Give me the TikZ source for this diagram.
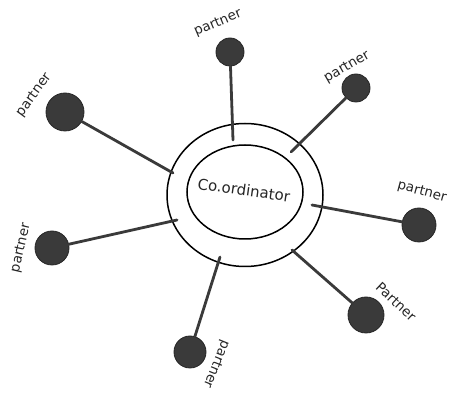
\documentclass[tikz,border=0pt]{standalone}
\usepackage{fontspec}
\setmainfont{DejaVu Sans}
\usetikzlibrary{shapes.geometric}
\definecolor{ballc}{HTML}{3A3A3A}
\begin{document}
\begin{tikzpicture}[x=1pt,y=-1pt,
  ball/.style={circle,fill=ballc,draw=black!85,line width=0.8pt,inner sep=0pt},
  stick/.style={draw=ballc,line width=2.8pt,line cap=round},
  ring/.style={ellipse,draw=black,line width=1.5pt,inner sep=0pt},
  lbl/.style={font=\fontsize{13.5}{14}\selectfont,text=black!85,inner sep=1pt}]
\useasboundingbox (0,0) rectangle (459,401);
\fill[white] (0,0) rectangle (459,401);
% coordinator rings
\node[ring,minimum width=156pt,minimum height=143pt] (outer) at (245,195) {};
\node[ring,minimum width=116pt,minimum height=94pt] (inner) at (245,192) {};
\node[lbl,font=\fontsize{15}{16}\selectfont,rotate=-8] (coord) at (244,190) {Co.ordinator};
% stick ends on the ring
\coordinate (e1) at (233,140);
\coordinate (e2) at (291,152);
\coordinate (e3) at (312,205);
\coordinate (e4) at (292,250);
\coordinate (e5) at (220,257);
\coordinate (e6) at (177,220);
\coordinate (e7) at (173,173);
% partner balls
\node[ball,minimum size=28pt] (b1) at (230,52) {};
\node[ball,minimum size=28pt] (b2) at (356,88) {};
\node[ball,minimum size=34pt] (b3) at (419,225) {};
\node[ball,minimum size=36pt] (b4) at (366,315) {};
\node[ball,minimum size=32pt] (b5) at (190,352) {};
\node[ball,minimum size=34pt] (b6) at (52,248) {};
\node[ball,minimum size=38pt] (b7) at (65,112) {};
% sticks
\foreach \i in {1,...,7} {\draw[stick] (b\i) -- (e\i);}
% labels
\node[lbl,rotate=23]  (l1) at (218,23)  {partner};
\node[lbl,rotate=30]  (l2) at (347,67)  {partner};
\node[lbl,rotate=-15] (l3) at (422,192) {partner};
\node[lbl,rotate=-43] (l4) at (396,302) {Partner};
\node[lbl,rotate=-112] (l5) at (216,364) {partner};
\node[lbl,rotate=77]  (l6) at (21,248)  {partner};
\node[lbl,rotate=54]  (l7) at (34,95)   {partner};
\end{tikzpicture}
\end{document}
